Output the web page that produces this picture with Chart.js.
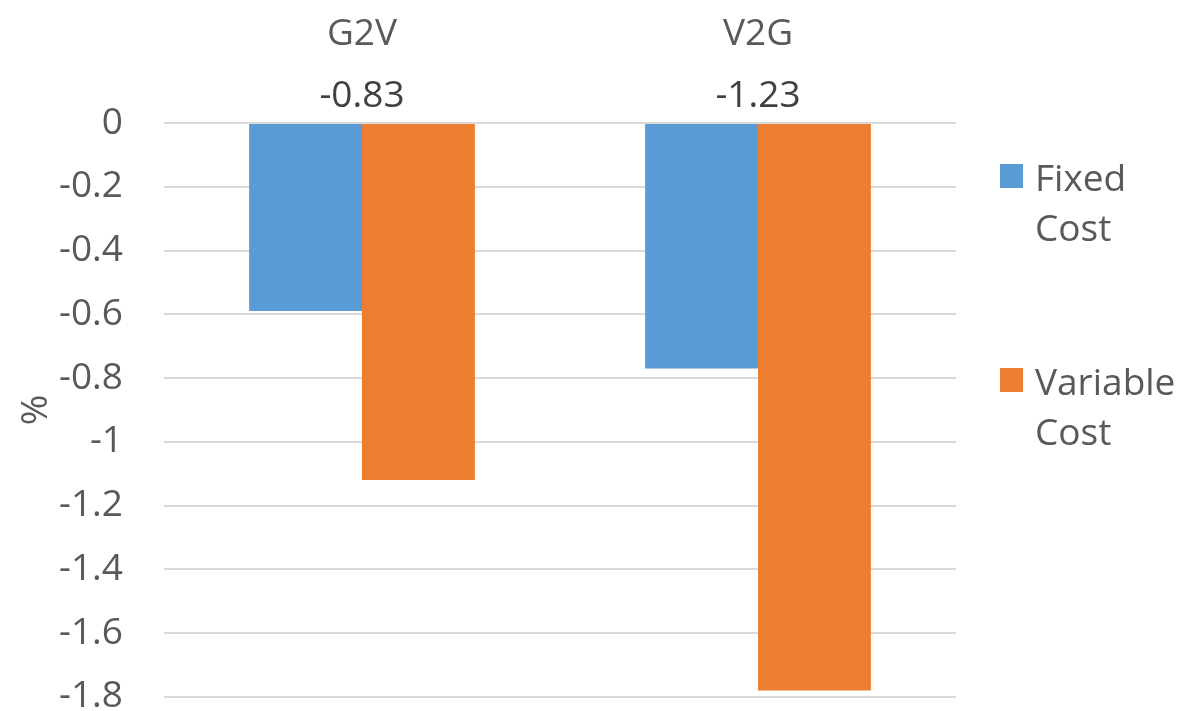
<!DOCTYPE html>
<html>
<head>
<meta charset="utf-8">
<script src="https://cdn.jsdelivr.net/npm/chart.js@4/dist/chart.umd.min.js"></script>
<style>
  html, body { margin: 0; padding: 0; background: #fff; overflow: hidden; }
  #wrap { position: relative; width: 1184px; height: 711px; overflow: hidden; }
  #legend { position: absolute; left: 1000px; top: 0; font-family: "Open Sans", sans-serif; color: #595959; }
  .item { position: absolute; left: 0; white-space: nowrap; }
  .box { position: absolute; left: 0; width: 23px; height: 24px; }
  .txt { position: absolute; left: 35px; font-size: 37px; line-height: 50px; }
</style>
</head>
<body>
<div id="wrap">
  <!-- canvas is taller than the view: the layout keeps spare room under the y axis -->
  <canvas id="costChart" width="1184" height="760"></canvas>
  <div id="legend"></div>
</div>
<script>
const categories = ['G2V', 'V2G'];
const seriesNames = ['Fixed Cost', 'Variable Cost'];
const fixedCost = [-0.59, -0.77];
const variableCost = [-1.12, -1.78];
const groupLabels = ['-0.83', '-1.23'];
const colors = ['#5B9BD5', '#ED7D31'];

const font = '"Open Sans", sans-serif';

// draws the -0.83 / -1.23 labels above each group
const groupLabelPlugin = {
  id: 'groupLabels',
  afterDatasetsDraw(chart) {
    const { ctx, scales } = chart;
    ctx.save();
    ctx.font = '37px ' + font;
    ctx.fillStyle = '#404040';
    ctx.textAlign = 'center';
    ctx.textBaseline = 'middle';
    categories.forEach((c, i) => {
      const x = scales.x.getPixelForValue(i);
      const y = scales.y.getPixelForValue(0) - 27;
      ctx.fillText(groupLabels[i], x, y);
    });
    ctx.restore();
  }
};

const chart = new Chart(document.getElementById('costChart').getContext('2d'), {
  type: 'bar',
  data: {
    labels: categories,
    datasets: [
      { label: seriesNames[0], data: fixedCost, backgroundColor: colors[0] },
      { label: seriesNames[1], data: variableCost, backgroundColor: colors[1] }
    ]
  },
  options: {
    responsive: false,
    animation: false,
    layout: { autoPadding: false, padding: { top: 0, left: 14, right: 228, bottom: 13 } },
    datasets: { bar: { categoryPercentage: 0.57, barPercentage: 1.0 } },
    plugins: { legend: { display: false }, tooltip: { enabled: false } },
    scales: {
      x: {
        position: 'top',
        grid: { display: false, drawTicks: false },
        border: { display: false },
        ticks: { color: '#595959', font: { family: font, size: 37 }, padding: 66 },
        afterFit: s => { s.height = 123; }
      },
      y: {
        min: -1.8,
        max: 0,
        grid: { color: '#d9d9d9', lineWidth: 2, drawTicks: false },
        border: { display: false },
        ticks: {
          stepSize: 0.2,
          color: '#595959',
          font: { family: font, size: 37 },
          padding: 41,
          callback: v => String(Math.round(v * 10) / 10)
        },
        title: { display: true, text: '%', color: '#595959', font: { family: font, size: 37 }, padding: 0 },
        afterFit: s => { s.width = 150; }
      }
    }
  },
  plugins: [groupLabelPlugin]
});

// legend, two lines per entry like the original
const legendTops = [152, 356];
const legend = document.getElementById('legend');
seriesNames.forEach((name, i) => {
  const item = document.createElement('div');
  item.className = 'item';
  item.style.top = legendTops[i] + 'px';
  item.innerHTML = '<div class="box" style="top:12px;background:' + colors[i] + '"></div>' +
    '<div class="txt">' + name.split(' ').join('<br>') + '</div>';
  legend.appendChild(item);
});
</script>
</body>
</html>
